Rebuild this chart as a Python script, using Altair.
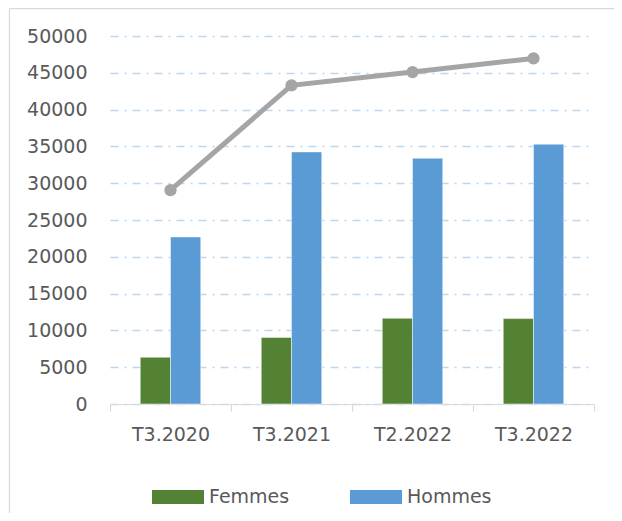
import altair as alt
import pandas as pd

# ---- data ----
categories = ["T3.2020", "T3.2021", "T2.2022", "T3.2022"]
femmes = [6350, 9050, 11650, 11600]
hommes = [22700, 34250, 33400, 35300]
total = [29050, 43300, 45100, 46950]
series = ["Femmes", "Hommes"]
colors = ["#548235", "#5b9bd5"]
y_ticks = [0, 5000, 10000, 15000, 20000, 25000, 30000, 35000, 40000, 45000, 50000]
title_text = "participants par semaine"

bars_df = pd.DataFrame({
    "periode": categories * 2,
    "genre": [series[0]] * len(categories) + [series[1]] * len(categories),
    "valeur": femmes + hommes,
})
line_df = pd.DataFrame({"periode": categories, "total": total})
one_df = pd.DataFrame({"titre": [title_text]})

FONT = "DejaVu Sans"
LABEL = "#595959"
W, H = 484, 368
PAD = {"left": 102, "top": 28, "right": 20, "bottom": 109}

x_enc = alt.X(
    "periode:N",
    sort=categories,
    scale=alt.Scale(paddingInner=0, paddingOuter=0),
    axis=alt.Axis(
        title=None, labelAngle=0, tickBand="extent",
        domainColor="#d9d9d9", domainWidth=1.2,
        tickColor="#d9d9d9", tickWidth=1.2, tickSize=7,
        labelPadding=14, labelFontSize=19, labelColor=LABEL, labelFont=FONT,
        grid=False,
    ),
)
y_scale = alt.Scale(domain=[0, 50000], nice=False)
y_axis = alt.Axis(
    title=None, values=y_ticks, format="d", domain=False, ticks=False,
    labelPadding=23, labelFontSize=19, labelColor=LABEL, labelFont=FONT,
    grid=True, gridColor="#bdd7ee", gridWidth=1.6, gridDash=[8, 6, 2, 6],
)

# chart-area frame (left and top edges only, as in the reference)
frame_top = alt.Chart(one_df).mark_rule(color="#d9d9d9", strokeWidth=1.2).encode(
    x=alt.value(-100.5), x2=alt.value(W + 40), y=alt.value(-27.4), y2=alt.value(-27.4),
)
frame_left = alt.Chart(one_df).mark_rule(color="#d9d9d9", strokeWidth=1.2).encode(
    x=alt.value(-100.5), x2=alt.value(-100.5), y=alt.value(-27.4), y2=alt.value(H + 130),
)

# cut-off title above the frame
title = alt.Chart(one_df).mark_text(
    align="left", baseline="alphabetic", fontSize=22, fontStyle="italic",
    fontWeight="bold", font=FONT, color="#000000",
).encode(text="titre:N", x=alt.value(-98), y=alt.value(-32))

bars = alt.Chart(bars_df).mark_bar(
    stroke="white", strokeWidth=0.8, strokeOpacity=0.6
).encode(
    x=x_enc,
    xOffset=alt.XOffset("genre:N", sort=series,
                        scale=alt.Scale(paddingInner=0, paddingOuter=1)),
    y=alt.Y("valeur:Q", scale=y_scale, axis=y_axis),
    color=alt.Color(
        "genre:N",
        scale=alt.Scale(domain=series, range=colors),
        legend=alt.Legend(
            title=None, orient="none", direction="horizontal",
            legendX=42, legendY=435,
            symbolType="M-1,-0.27L1,-0.27L1,0.27L-1,0.27Z",
            symbolSize=2704, symbolStrokeWidth=0,
            labelFontSize=19, labelColor=LABEL, labelFont=FONT,
            labelOffset=5, columnPadding=60,
        ),
    ),
)

line = alt.Chart(line_df).mark_line(color="#a5a5a5", strokeWidth=5).encode(
    x=alt.X("periode:N", sort=categories),
    y=alt.Y("total:Q", scale=y_scale, axis=y_axis),
)
points = alt.Chart(line_df).mark_point(
    filled=True, size=150, color="#a5a5a5", opacity=1
).encode(
    x=alt.X("periode:N", sort=categories),
    y=alt.Y("total:Q", scale=y_scale, axis=y_axis),
)

chart = alt.layer(frame_top, frame_left, title, bars, line, points).properties(
    width=W,
    height=H,
    padding=PAD,
    autosize=alt.AutoSizeParams(type="none"),
    background="white",
).configure_view(stroke=None)

chart.save("out.html", embed_options={"renderer": "svg", "actions": False})
